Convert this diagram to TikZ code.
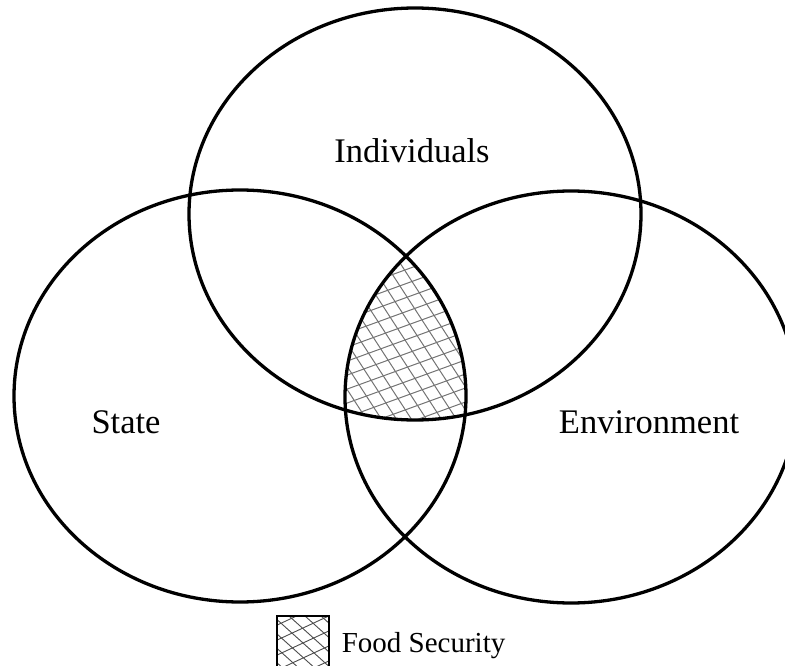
\documentclass[tikz,border=0pt]{standalone}
\usepackage{fontspec}
\setmainfont{Liberation Serif}
\usetikzlibrary{positioning,calc}

\begin{document}
\begin{tikzpicture}[x=1pt, y=-1pt]
    \tikzstyle{ring}=[draw=black, line width=3.3pt]
    \tikzstyle{hatch}=[draw=black!55, line width=1pt]
    \tikzstyle{setname}=[font=\fontsize{34.5}{40}\selectfont, anchor=base, inner sep=0pt]
    \tikzstyle{keybox}=[draw=black, line width=1.2pt, minimum width=52pt, minimum height=54pt, inner sep=0pt]

    \useasboundingbox (0,0) rectangle (785,666);

    % centres of the three sets
    \coordinate (indiv) at (415,214);
    \coordinate (state) at (240,396);
    \coordinate (env) at (571,397);
    \coordinate (lens) at (405,340);

    % shared part of all three
    \begin{scope}
      \clip (indiv) ellipse [x radius=226, y radius=206];
      \clip (state) ellipse [x radius=226, y radius=206];
      \clip (env) ellipse [x radius=226, y radius=206];
      \foreach \k in {-10,...,10}
        \draw[hatch] ($(lens)+(\k*15,0)+(57:-200)$) -- ++(57:400);
      \foreach \k in {-10,...,10}
        \draw[hatch] ($(lens)+(0,\k*14)+(-20:-200)$) -- ++(-20:400);
    \end{scope}

    % sets
    \draw[ring] (indiv) ellipse [x radius=226, y radius=206];
    \draw[ring] (state) ellipse [x radius=226, y radius=206];
    \draw[ring] (env) ellipse [x radius=226, y radius=206];

    \node[setname] (individuals) at (412,163) {Individuals};
    \node[setname] (statename) at (126,433) {State};
    \node[setname] (environment) at (649,433) {Environment};

    % legend
    \node[keybox, path picture={
        \foreach \k in {-4,...,4}
          \draw[black!70, line width=0.9pt] ($(path picture bounding box.center)+(\k*16,0)+(42:-60)$) -- ++(42:120);
        \foreach \k in {-4,...,4}
          \draw[black!70, line width=0.9pt] ($(path picture bounding box.center)+(0,\k*15)+(-25:-60)$) -- ++(-25:120);
      }] (key) at (303,643) {};
    \node[right=12pt of key, yshift=-3pt, font=\fontsize{29}{34}\selectfont, inner sep=0pt] (keytext) {Food Security};

\end{tikzpicture}
\end{document}
